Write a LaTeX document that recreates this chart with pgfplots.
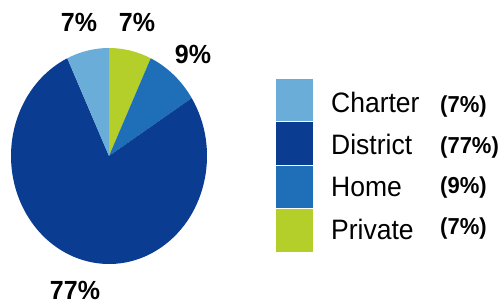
\documentclass[border=0pt]{standalone}
\usepackage{graphicx}
\usepackage{pgfplots}
\pgfplotsset{compat=1.18}
\usepackage{fontspec}
\setmainfont{Liberation Sans}
\definecolor{cCharter}{RGB}{106,173,216}
\definecolor{cDistrict}{RGB}{10,61,145}
\definecolor{cHome}{RGB}{30,111,184}
\definecolor{cPrivate}{RGB}{181,207,42}
% shares (percent), clockwise from 12 o'clock: Private, Home, District, Charter
\pgfmathsetmacro{\pP}{7}
\pgfmathsetmacro{\pH}{9}
\pgfmathsetmacro{\pD}{77}
\pgfmathsetmacro{\pC}{7}
\pgfmathsetmacro{\aA}{90}
\pgfmathsetmacro{\aB}{\aA-3.6*\pP}
\pgfmathsetmacro{\aC}{\aB-3.6*\pH}
\pgfmathsetmacro{\aD}{\aC-3.6*\pD}
\pgfmathsetmacro{\aE}{\aD-3.6*\pC}
\newcommand{\lt}[1]{\scalebox{1}[1.06]{\fontsize{26.5}{30}\selectfont #1}}
\newcommand{\pc}[1]{\scalebox{1}[1.05]{\fontsize{22}{26}\selectfont\bfseries #1}}
\newcommand{\pl}[1]{\scalebox{1}[1.05]{\fontsize{25}{28}\selectfont\bfseries #1}}
\begin{document}
\begin{tikzpicture}
\begin{axis}[x=1pt,y=1pt,xmin=0,xmax=504,ymin=0,ymax=304,
  hide axis,clip=false,scale only axis]
\path (axis cs:0,0) rectangle (axis cs:504,304);
\fill[cPrivate] (axis cs:109,148) -- ++(\aA:98pt and 108pt) arc[start angle=\aA,end angle=\aB,x radius=98pt,y radius=108pt] -- cycle;
\fill[cHome] (axis cs:109,148) -- ++(\aB:98pt and 108pt) arc[start angle=\aB,end angle=\aC,x radius=98pt,y radius=108pt] -- cycle;
\fill[cDistrict] (axis cs:109,148) -- ++(\aC:98pt and 108pt) arc[start angle=\aC,end angle=\aD,x radius=98pt,y radius=108pt] -- cycle;
\fill[cCharter] (axis cs:109,148) -- ++(\aD:98pt and 108pt) arc[start angle=\aD,end angle=\aE,x radius=98pt,y radius=108pt] -- cycle;
% pie labels
\node at (axis cs:79,282) {\pl{7\%}};
\node at (axis cs:137,282) {\pl{7\%}};
\node at (axis cs:193,250) {\pl{9\%}};
\node at (axis cs:75,14) {\pl{77\%}};
% legend
\fill[cCharter,draw=white,line width=0.6pt] (axis cs:275,226) rectangle (axis cs:313,183);
\fill[cDistrict,draw=white,line width=0.6pt] (axis cs:275,183) rectangle (axis cs:313,139);
\fill[cHome,draw=white,line width=0.6pt] (axis cs:275,139) rectangle (axis cs:313,96);
\fill[cPrivate,draw=white,line width=0.6pt] (axis cs:275,96) rectangle (axis cs:313,52);
\node[anchor=base west,inner sep=0pt] at (axis cs:331,191) {\lt{Charter}};
\node[anchor=base west,inner sep=0pt] at (axis cs:331,149) {\lt{District}};
\node[anchor=base west,inner sep=0pt] at (axis cs:331,107) {\lt{Home}};
\node[anchor=base west,inner sep=0pt] at (axis cs:331,64) {\lt{Private}};
\node[anchor=base west,inner sep=0pt] at (axis cs:440,191) {\pc{(7\%)}};
\node[anchor=base west,inner sep=0pt] at (axis cs:440,150.5) {\pc{(77\%)}};
\node[anchor=base west,inner sep=0pt] at (axis cs:440,110) {\pc{(9\%)}};
\node[anchor=base west,inner sep=0pt] at (axis cs:440,69) {\pc{(7\%)}};
\end{axis}
\end{tikzpicture}
\end{document}
